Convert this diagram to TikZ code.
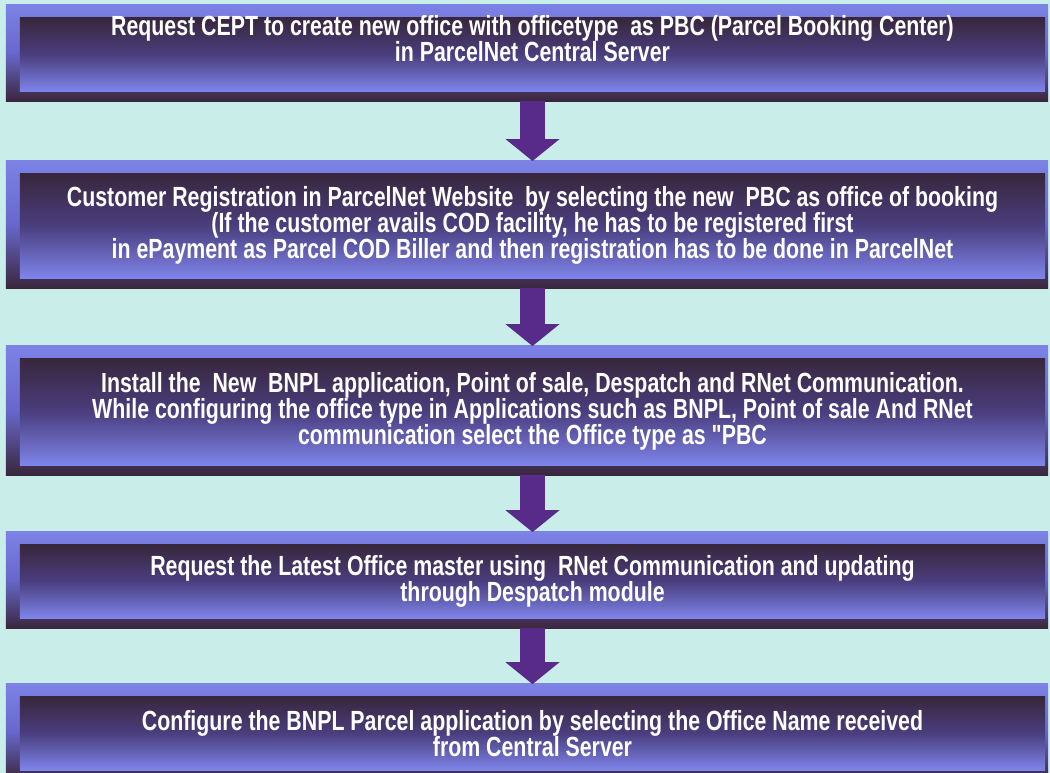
\documentclass[tikz,border=0pt]{standalone}
\usepackage{fontspec}
\newfontfamily\stagefont{Liberation Sans}[FakeStretch=0.77]
\usepackage{xcolor}
\usepackage{tikz}
\usetikzlibrary{positioning, arrows.meta, backgrounds}

\definecolor{bgcyan}{RGB}{201,238,234}
\definecolor{frameTop}{RGB}{124,130,230}
\definecolor{frameMid}{RGB}{104,104,204}
\definecolor{frameBot}{RGB}{58,38,60}
\definecolor{innerTop}{RGB}{56,38,60}
\definecolor{innerMid}{RGB}{74,62,126}
\definecolor{innerBot}{RGB}{126,132,234}
\definecolor{arrowpurple}{RGB}{88,42,138}

\begin{document}
\begin{tikzpicture}[
    x=0.025cm, y=-0.025cm,
    node distance=2cm,
    stagebox/.style={rectangle, minimum width=25.625cm, minimum height=#1, inner sep=0pt, outer sep=0pt,
        align=center, text=white, font=\stagefont\bfseries\fontsize{19.7}{18.6}\selectfont,
        top color=innerTop, bottom color=innerBot, middle color=innerMid},
    stagebox/.default=1.85cm,
    frame/.style={top color=frameTop, bottom color=frameBot, middle color=frameMid},
    arr/.style={-{Triangle[length=0.55cm, width=1.325cm]}, line width=0.625cm, draw=arrowpurple},
]
    \useasboundingbox (0,0) rectangle (1050,773);

    % the five steps, top to bottom
    \node[stagebox=1.825cm, text height=0.9cm, text depth=0.54cm] (stage1) at (532.5,54.5)
        {Request CEPT to create new office with officetype\ \ as PBC (Parcel Booking Center)\\
         in ParcelNet Central Server};
    \node[stagebox=2.625cm, below=2.05cm of stage1] (stage2)
        {Customer Registration in ParcelNet Website\ \ by selecting the new\ \ PBC as office of booking\\
         (If the customer avails COD facility, he has to be registered first\\
         in ePayment as Parcel COD Biller and then registration has to be done in ParcelNet};
    \node[stagebox=2.675cm, below=of stage2] (stage3)
        {Install the\ \ New\ \ BNPL application, Point of sale, Despatch and RNet Communication.\\
         While configuring the office type in Applications such as BNPL, Point of sale And RNet\\
         communication select the Office type as "PBC};
    \node[stagebox, below=1.975cm of stage3] (stage4)
        {Request the Latest Office master using\ \ RNet Communication and updating\\
         through Despatch module};
    \node[stagebox, below=1.95cm of stage4] (stage5)
        {Configure the BNPL Parcel application by selecting the Office Name received\\
         from Central Server};

    % paper and bevelled frames behind the steps
    \begin{scope}[on background layer]
        \fill[bgcyan] (0,0) rectangle (1050,773);
        \foreach \s in {stage1,stage2,stage3,stage4,stage5}
            \fill[frame] ([xshift=-0.35cm, yshift=0.325cm]\s.north west) rectangle ([xshift=0.075cm, yshift=-0.25cm]\s.south east);
    \end{scope}

    \draw[arr] ([yshift=-0.25cm]stage1.south) -- ([yshift=0.3cm]stage2.north);
    \draw[arr] ([yshift=-0.25cm]stage2.south) -- ([yshift=0.3cm]stage3.north);
    \draw[arr] ([yshift=-0.25cm]stage3.south) -- ([yshift=0.3cm]stage4.north);
    \draw[arr] ([yshift=-0.25cm]stage4.south) -- ([yshift=0.3cm]stage5.north);
\end{tikzpicture}
\end{document}
